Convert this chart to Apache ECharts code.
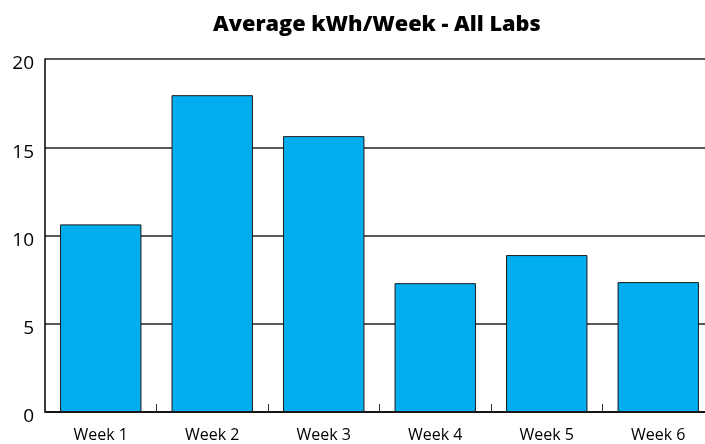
<!DOCTYPE html>
<html>
<head>
<meta charset="utf-8">
<script src="https://cdn.jsdelivr.net/npm/echarts@6/dist/echarts.min.js"></script>
<style>html,body{margin:0;padding:0;background:#fff;overflow:hidden;}#c{width:720px;height:444px;}</style>
</head>
<body>
<div id="c"></div>
<script>
const titleText = 'Average kWh/Week - All Labs';
const categories = ['Week 1', 'Week 2', 'Week 3', 'Week 4', 'Week 5', 'Week 6'];
const values = [10.63, 17.95, 15.63, 7.30, 8.89, 7.36];
const yTicks = [0, 5, 10, 15, 20];

const chart = echarts.init(document.getElementById('c'), null, {renderer: 'canvas'});
chart.setOption({
  animation: false,
  backgroundColor: '#ffffff',
  title: {
    text: titleText,
    left: 208,
    top: 9,
    textStyle: {fontFamily: 'Open Sans', fontWeight: 900, fontSize: 21.7, color: '#000'}
  },
  grid: {left: 45, top: 59, width: 669, height: 353, containLabel: false},
  xAxis: {
    type: 'category',
    data: categories,
    axisLine: {show: true, lineStyle: {color: '#000', width: 1.5}},
    axisTick: {show: true, inside: true, length: 8, alignWithLabel: false, lineStyle: {color: '#333', width: 1}},
    axisLabel: {fontFamily: 'Open Sans', fontSize: 16, color: '#000', margin: 15},
    splitLine: {show: false}
  },
  yAxis: {
    type: 'value',
    min: yTicks[0],
    max: yTicks[yTicks.length - 1],
    interval: 5,
    axisLine: {show: true, lineStyle: {color: '#000', width: 1.5}},
    axisTick: {show: false},
    axisLabel: {fontFamily: 'Open Sans', fontSize: 19, color: '#000', margin: 11, verticalAlign: 'top', lineHeight: 10},
    splitLine: {show: true, lineStyle: {color: '#222', width: 1.5}}
  },
  series: [{
    type: 'bar',
    data: values,
    barCategoryGap: '27%',
    itemStyle: {color: '#00AEEF', borderColor: '#1a1a1a', borderWidth: 1}
  }]
});
</script>
</body>
</html>
